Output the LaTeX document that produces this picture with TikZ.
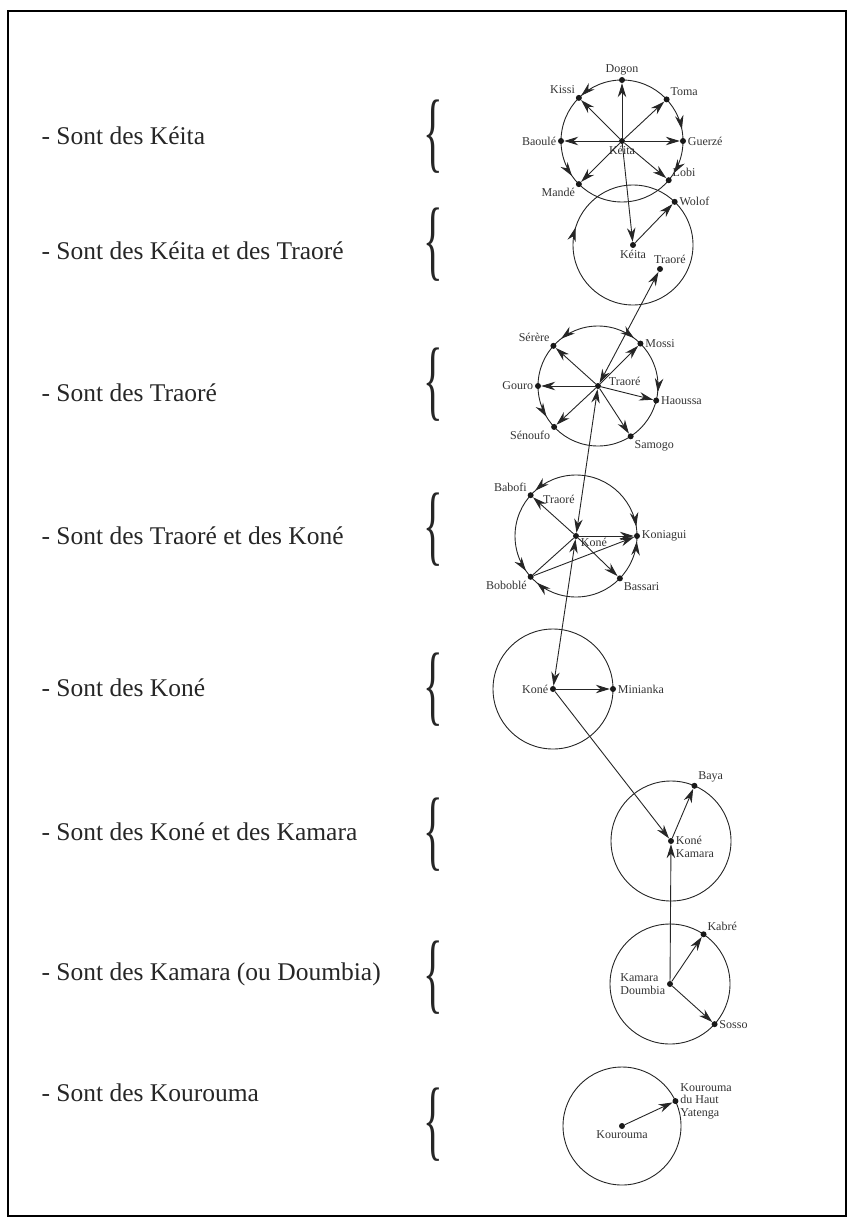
\documentclass[tikz,border=0pt]{standalone}
\usepackage{fontspec}
\setmainfont{Liberation Serif}
\usetikzlibrary{calc,arrows.meta,decorations.markings}

\newcommand{\tallbrace}{\scalebox{1.7}[3.7]{\fontsize{24}{24}\selectfont\{}}

\begin{document}
\begin{tikzpicture}[x=1pt, y=1pt,
    >={Stealth[length=14pt,width=8.5pt]},
    pt/.style={circle, fill=black!90, inner sep=0pt, minimum size=6pt},
    lab/.style={font=\fontsize{12}{12.5}\selectfont, text=black!80, inner sep=1.5pt, align=left},
    ring/.style={draw=black!85, line width=0.9pt},
    link/.style={->, draw=black!85, line width=0.9pt},
    both/.style={<->, draw=black!85, line width=0.9pt},
    row/.style={anchor=west, font=\fontsize{25.5}{27}\selectfont, text=black!85},
    brace/.style={inner sep=0pt, text=black!85},
    ccw/.style={postaction={decorate, decoration={markings,
        mark=at position #1/360 with {\arrow{Stealth[length=14pt,width=8.5pt]}}}}},
    cw/.style={postaction={decorate, decoration={markings,
        mark=at position #1/360 with {\arrowreversed{Stealth[length=14pt,width=8.5pt]}}}}},
]
\useasboundingbox (0,0) rectangle (853,-1225);
\draw[line width=1.6pt] (8,-11) rectangle (846,-1216);

% left column
\node[row] (t1) at (38,-136) {- Sont des Kéita};
\node[row] (t2) at (38,-251) {- Sont des Kéita et des Traoré};
\node[row] (t3) at (38,-393) {- Sont des Traoré};
\node[row] (t4) at (38,-536) {- Sont des Traoré et des Koné};
\node[row] (t5) at (38,-688) {- Sont des Koné};
\node[row] (t6) at (38,-832) {- Sont des Koné et des Kamara};
\node[row] (t7) at (38,-974) {- Sont des Kamara (ou Doumbia)};
\node[row] (t8) at (38,-1093) {- Sont des Kourouma};

\node[brace] (b1) at (433,-137) {\tallbrace};
\node[brace] (b2) at (433,-245) {\tallbrace};
\node[brace] (b3) at (433,-385) {\tallbrace};
\node[brace] (b4) at (433,-530) {\tallbrace};
\node[brace] (b5) at (433,-690) {\tallbrace};
\node[brace] (b6) at (433,-835) {\tallbrace};
\node[brace] (b7) at (433,-978) {\tallbrace};
\node[brace] (b8) at (433,-1125) {\tallbrace};

% Keita
\node[pt, label={[lab]below:Kéita}] (keitaA) at (622,-141) {};
\draw[ring, ccw=132, cw=11, cw=328, ccw=215] (keitaA) circle[radius=61];
\node[pt, label={[lab]above:Dogon}] (dogon) at ($(keitaA)+(90:61)$) {};
\node[pt, label={[lab]above right:Toma}] (toma) at ($(keitaA)+(43:61)$) {};
\node[pt, label={[lab]right:Guerzé}] (guerze) at ($(keitaA)+(0:61)$) {};
\node[pt, label={[lab]above right:Lobi}] (lobi) at ($(keitaA)+(-40:61)$) {};
\node[pt, label={[lab]below left:Mandé}] (mande) at ($(keitaA)+(225:61)$) {};
\node[pt, label={[lab]left:Baoulé}] (baoule) at ($(keitaA)+(180:61)$) {};
\node[pt, label={[lab]above left:Kissi}] (kissi) at ($(keitaA)+(135:61)$) {};
\foreach \n in {dogon,toma,guerze,lobi,mande,baoule,kissi}
    \draw[link] (keitaA) -- (\n);

% Keita et Traore
\node[pt, label={[lab]below:Kéita}] (keitaB) at (633,-245) {};
\draw[ring, cw=163] (keitaB) circle[radius=60];
\node[pt, label={[lab]right:Wolof}] (wolof) at ($(keitaB)+(46:60)$) {};
\node[pt, label={[lab, xshift=10pt]above:Traoré}] (traoreB) at (660,-269) {};
\draw[link] (keitaA) -- (keitaB);
\draw[link] (keitaB) -- (wolof);

% Traore
\node[pt, label={[lab, xshift=6pt, yshift=5pt]right:Traoré}] (traoreC) at (598,-386) {};
\draw[ring, ccw=128, cw=53, cw=354, ccw=211] (traoreC) circle[radius=60];
\node[pt, label={[lab]right:Mossi}] (mossi) at ($(traoreC)+(45:60)$) {};
\node[pt, label={[lab]above left:Sérère}] (serere) at ($(traoreC)+(138:60)$) {};
\node[pt, label={[lab]left:Gouro}] (gouro) at ($(traoreC)+(180:60)$) {};
\node[pt, label={[lab]below left:Sénoufo}] (senoufo) at ($(traoreC)+(223:60)$) {};
\node[pt, label={[lab]below right:Samogo}] (samogo) at ($(traoreC)+(303:60)$) {};
\node[pt, label={[lab]right:Haoussa}] (haoussa) at ($(traoreC)+(346:60)$) {};
\foreach \n in {mossi,serere,gouro,senoufo,samogo,haoussa}
    \draw[link] (traoreC) -- (\n);
\draw[both] (traoreB) -- (traoreC);

% Traore et Kone
\node[pt, label={[lab, yshift=-6pt]right:Koné}] (koneD) at (576,-536) {};
\node[lab] (traoreD) at (559,-499) {Traoré};
\draw[ring, ccw=132, ccw=215, cw=230, cw=9, ccw=355] (koneD) circle[radius=61];
\node[pt, label={[lab]above left:Babofi}] (babofi) at ($(koneD)+(138:61)$) {};
\node[pt, label={[lab]right:Koniagui}] (koniagui) at ($(koneD)+(0:61)$) {};
\node[pt, label={[lab]below right:Bassari}] (bassari) at ($(koneD)+(316:61)$) {};
\node[pt, label={[lab]below left:Boboblé}] (boboble) at ($(koneD)+(222:61)$) {};
\foreach \n in {babofi,koniagui,bassari}
    \draw[link] (koneD) -- (\n);
\draw[ring] (boboble) -- (koneD);
\draw[link] (boboble) -- (koniagui);
\draw[both] (traoreC) -- (koneD);

% Kone
\node[pt, label={[lab]left:Koné}] (koneE) at (553,-689) {};
\draw[ring] (koneE) circle[radius=60];
\node[pt, label={[lab]right:Minianka}] (minianka) at ($(koneE)+(0:60)$) {};
\draw[both] (koneD) -- (koneE);
\draw[link] (koneE) -- (minianka);

% Kone et Kamara
\node[pt, label={[lab, yshift=-6pt]right:Koné\\Kamara}] (koneF) at (671,-841) {};
\draw[ring] (koneF) circle[radius=60];
\node[pt, label={[lab]above right:Baya}] (baya) at ($(koneF)+(67:60)$) {};
\draw[link] (koneE) -- (koneF);
\draw[link] (koneF) -- (baya);

% Kamara (Doumbia)
\node[pt, label={[lab]left:Kamara\\Doumbia}] (kamaraG) at (670,-984) {};
\draw[ring] (kamaraG) circle[radius=60];
\node[pt, label={[lab]above right:Kabré}] (kabre) at ($(kamaraG)+(56:60)$) {};
\node[pt, label={[lab]right:Sosso}] (sosso) at ($(kamaraG)+(318:60)$) {};
\draw[link] (kamaraG) -- (koneF);
\draw[link] (kamaraG) -- (kabre);
\draw[link] (kamaraG) -- (sosso);

% Kourouma
\node[pt, label={[lab]below:Kourouma}] (kouroumaH) at (622,-1126) {};
\draw[ring] (kouroumaH) circle[radius=59];
\node[pt, label={[lab]right:Kourouma\\du Haut\\Yatenga}] (yatenga) at ($(kouroumaH)+(25:59)$) {};
\draw[link] (kouroumaH) -- (yatenga);
\end{tikzpicture}
\end{document}
